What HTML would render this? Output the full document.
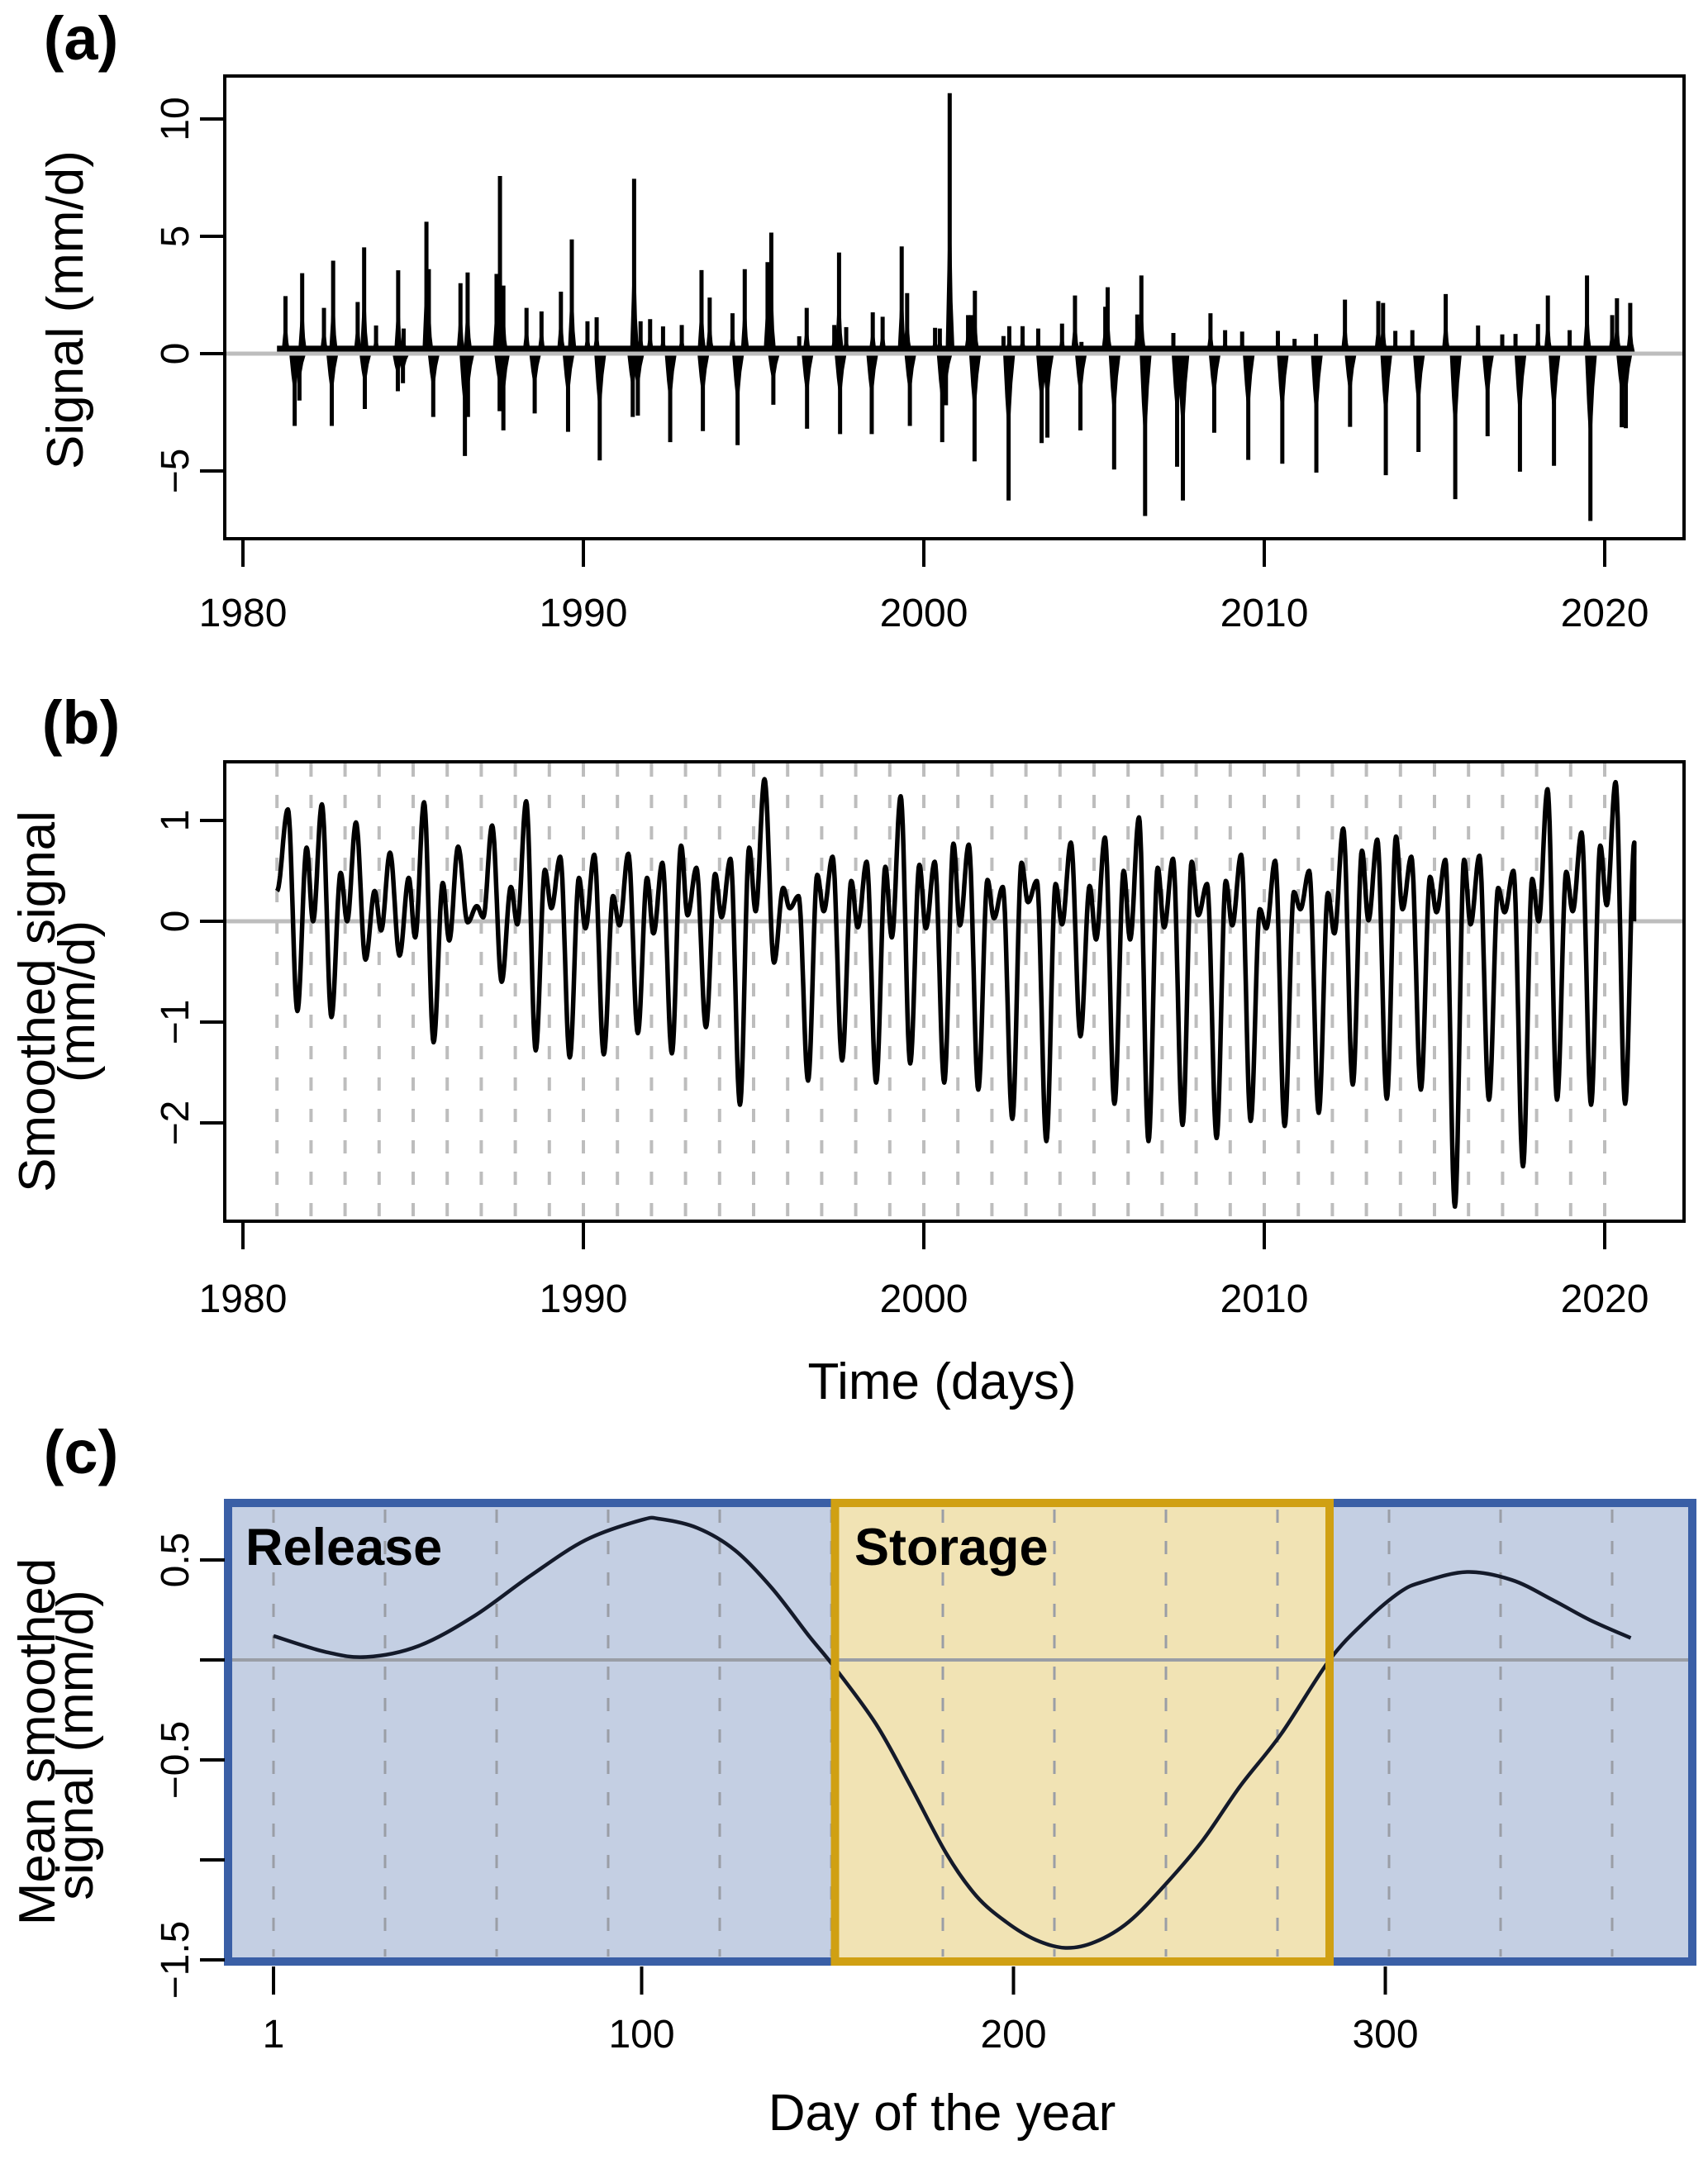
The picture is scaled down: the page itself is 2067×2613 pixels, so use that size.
<!DOCTYPE html>
<html><head><meta charset="utf-8"><style>
html,body{margin:0;padding:0;background:#fff}
svg{display:block;font-family:"Liberation Sans",Arial,sans-serif}
</style></head><body>
<svg id="fig" width="2067" height="2613" viewBox="0 0 2067 2613" xmlns="http://www.w3.org/2000/svg">
<rect x="0" y="0" width="2067" height="2613" fill="#fff"/>
<text x="98" y="72" font-size="74" font-weight="bold" text-anchor="middle">(a)</text>
<text x="98" y="900" font-size="74" font-weight="bold" text-anchor="middle">(b)</text>
<text x="98" y="1783" font-size="74" font-weight="bold" text-anchor="middle">(c)</text>
<g id="pa"></g>
<g id="pb"></g>
<g id="pc"></g>
<text transform="translate(100,375) rotate(-90)" font-size="62" text-anchor="middle">Signal (mm/d)</text>
<text transform="translate(66,1212) rotate(-90)" font-size="62" text-anchor="middle">Smoothed signal</text>
<text transform="translate(114,1212) rotate(-90)" font-size="62" text-anchor="middle">(mm/d)</text>
<text x="1140" y="1693" font-size="62" text-anchor="middle">Time (days)</text>
<text transform="translate(66,2108) rotate(-90)" font-size="62" text-anchor="middle">Mean smoothed</text>
<text transform="translate(112,2112) rotate(-90)" font-size="62" text-anchor="middle">signal (mm/d)</text>
<text x="1140" y="2578" font-size="62" text-anchor="middle">Day of the year</text>
</svg>
<script>
// ---------- Panel (a) data ----------
const aPosTimes=[1981.25,1981.74,1982.38,1982.65,1983.37,1983.56,1983.91,1984.56,1984.72,1985.39,1985.46,1986.39,1986.60,1987.45,1987.55,1987.65,1988.33,1988.77,1989.34,1989.66,1990.12,1990.39,1991.49,1991.68,1991.96,1992.34,1992.89,1993.47,1993.71,1994.38,1994.74,1995.41,1995.52,1996.34,1996.56,1997.37,1997.51,1997.72,1998.50,1998.79,1999.35,1999.51,2000.33,2000.47,2000.76,2001.30,2001.39,2001.50,2002.34,2002.51,2002.90,2003.36,2004.06,2004.44,2004.63,2005.33,2005.40,2006.27,2006.39,2007.33,2008.42,2008.85,2009.35,2010.40,2010.89,2011.52,2012.37,2013.35,2013.49,2013.85,2014.35,2015.33,2016.28,2016.99,2017.38,2018.04,2018.33,2018.97,2019.48,2020.22,2020.36,2020.75];
const aPosValues=[2.45,3.43,1.95,3.96,2.2,4.53,1.2,3.55,1.07,5.62,3.6,3.0,3.46,3.4,7.57,2.9,1.95,1.8,2.64,4.87,1.38,1.55,7.45,1.38,1.47,1.16,1.22,3.56,2.39,1.72,3.6,3.9,5.16,0.74,1.95,1.22,4.31,1.13,1.76,1.57,4.57,2.58,1.1,1.07,11.1,1.64,1.64,2.68,0.75,1.17,1.17,1.07,1.28,2.48,0.5,2.0,2.83,1.67,3.33,0.88,1.72,1.0,0.94,0.97,0.63,0.84,2.3,2.24,2.16,0.97,1.0,2.54,1.2,0.82,0.84,1.26,2.48,1.0,3.33,1.64,2.36,2.16];
const aNegTimes=[1981.52,1981.66,1982.61,1983.58,1984.55,1984.70,1985.59,1986.52,1986.61,1987.54,1987.65,1988.57,1989.55,1990.48,1991.45,1991.60,1992.55,1993.51,1994.53,1995.58,1996.57,1997.54,1998.47,1999.59,2000.54,2000.65,2001.49,2002.49,2003.46,2003.63,2004.60,2005.59,2006.50,2007.44,2007.61,2008.53,2009.53,2010.53,2011.53,2012.52,2013.57,2014.53,2015.61,2016.56,2017.51,2018.51,2019.58,2020.50,2020.62];
const aNegValues=[-3.08,-2.0,-3.08,-2.36,-1.6,-1.26,-2.7,-4.36,-2.7,-2.45,-3.27,-2.55,-3.33,-4.55,-2.7,-2.64,-3.77,-3.3,-3.9,-2.18,-3.2,-3.43,-3.43,-3.08,-3.77,-2.2,-4.59,-6.26,-3.81,-3.58,-3.27,-4.94,-6.92,-4.82,-6.26,-3.37,-4.53,-4.69,-5.07,-3.12,-5.18,-4.19,-6.2,-3.52,-5.03,-4.78,-7.13,-3.14,-3.18];
const aYTicks=[-5,0,5,10];
const aYTickLabels=["\u22125","0","5","10"];
const xYearTicks=[1980,1990,2000,2010,2020];
const xYearTickLabels=["1980","1990","2000","2010","2020"];
const seriesStart=1981.0, seriesEnd=2020.85;

// ---------- Panel (b) data (per-year extrema 1981..2020) ----------
const bYears=[1981,1982,1983,1984,1985,1986,1987,1988,1989,1990,1991,1992,1993,1994,1995,1996,1997,1998,1999,2000,2001,2002,2003,2004,2005,2006,2007,2008,2009,2010,2011,2012,2013,2014,2015,2016,2017,2018,2019,2020];
const bPhases=[0.06,0.32,0.6,0.87];
const bWinterDips=[0.3,0.0,0.0,-0.09,-0.16,-0.19,0.04,-0.03,0.13,-0.07,-0.04,-0.12,0.06,0.04,0.1,0.13,0.1,-0.06,-0.16,-0.07,-0.04,0.03,0.19,-0.03,-0.18,-0.18,-0.06,0.06,-0.04,-0.07,0.12,-0.12,0.01,0.12,0.09,-0.03,0.09,0.0,0.1,0.16];
const bSpringPeaks=[1.11,1.16,0.98,0.68,1.18,0.74,0.95,1.19,0.64,0.66,0.67,0.58,0.53,0.62,1.41,0.25,0.64,0.59,1.24,0.59,0.76,0.34,0.4,0.78,0.83,1.03,0.62,0.37,0.66,0.6,0.5,0.92,0.81,0.64,0.61,0.65,0.5,1.31,0.88,1.38];
const bSummerMins=[-0.89,-0.95,-0.38,-0.34,-1.2,-0.01,-0.6,-1.28,-1.35,-1.32,-1.11,-1.31,-1.05,-1.82,-0.41,-1.58,-1.38,-1.6,-1.41,-1.6,-1.67,-1.96,-2.18,-1.14,-1.81,-2.18,-2.02,-2.15,-1.98,-2.03,-1.9,-1.62,-1.76,-1.67,-2.83,-1.77,-2.43,-1.77,-1.82,-1.81];
const bAutumnPeaks=[0.73,0.48,0.3,0.43,0.38,0.15,0.34,0.51,0.43,0.25,0.43,0.75,0.47,0.73,0.33,0.46,0.4,0.54,0.56,0.77,0.41,0.58,0.37,0.35,0.5,0.53,0.59,0.4,0.12,0.29,0.28,0.7,0.84,0.44,0.61,0.33,0.42,0.49,0.75,0.78];
const bYTicks=[-2,-1,0,1];
const bYTickLabels=["\u22122","\u22121","0","1"];

// ---------- Panel (c) data ----------
const cDays=[1,15,26,40,55,70,85,100,105,115,125,135,145,152,163,172,182,190,198,206,214,222,231,241,251,261,272,285,295,304,310,322,334,345,355,366];
const cValues=[0.12,0.04,0.015,0.07,0.22,0.42,0.6,0.7,0.705,0.66,0.55,0.36,0.12,-0.04,-0.32,-0.62,-0.97,-1.18,-1.31,-1.40,-1.44,-1.41,-1.31,-1.12,-0.9,-0.63,-0.37,0.0,0.2,0.34,0.39,0.44,0.4,0.3,0.2,0.11];
const cStorageStart=152, cStorageEnd=285;
const cYTicks=[-1.5,-1,-0.5,0,0.5];
const cYTickLabels=["\u22121.5","","\u22120.5","","0.5"];
const cXTicks=[1,100,200,300];
const cXTickLabels=["1","100","200","300"];
const cGuideDays=[1,31,61,91,121,151,181,211,241,271,301,331,361];

const NS="http://www.w3.org/2000/svg";
function mk(parent,tag,attrs){const e=document.createElementNS(NS,tag);for(const k in attrs)e.setAttribute(k,attrs[k]);parent.appendChild(e);return e;}

const BX0=272,BX1=2038;
const xYear=t=>294+(t-1980)*41.2;

function frame(g,y0,y1,prefix){
  const r=mk(g,'rect',{x:BX0,y:y0,width:BX1-BX0,height:y1-y0,fill:'none',stroke:'#000','stroke-width':4});
  
  
}
function xYearAxis(g,yb,labY,prefix){
  xYearTicks.forEach((t,i)=>{
    const l=mk(g,'line',{x1:xYear(t),x2:xYear(t),y1:yb,y2:yb+34,stroke:'#000','stroke-width':4});
    
    
    const tx=mk(g,'text',{x:xYear(t),y:labY,'font-size':48,'text-anchor':'middle'});
    tx.textContent=xYearTickLabels[i];
    
    
  });
}
function yAxis(g,ticks,labels,ys,prefix){
  ticks.forEach((v,i)=>{
    const y=ys(v);
    const l=mk(g,'line',{x1:242,x2:BX0,y1:y,y2:y,stroke:'#000','stroke-width':4});
    
    
    if(labels[i]){
      const tx=mk(g,'text',{transform:`translate(228,${y}) rotate(-90)`,'font-size':48,'text-anchor':'middle'});
      tx.textContent=labels[i];
      
      
    }
  });
}

// ---------- Panel (a) ----------
(function(){
  const g=document.getElementById('pa');
  const ya=v=>428-v*28.4;
  const base=mk(g,'line',{x1:xYear(seriesStart),x2:xYear(seriesEnd),y1:ya(0.2),y2:ya(0.2),stroke:'#000','stroke-width':8});
  
  
  function spike(t,v,name,w){
    const p=mk(g,'path',{d:`M${xYear(t-w)},${ya(0)} L${xYear(t-w*0.6)},${ya(v*0.3)} L${xYear(t-0.04)},${ya(v*0.5)} L${xYear(t)},${ya(v*0.6)} L${xYear(t+0.05)},${ya(v*0.45)} L${xYear(t+w*0.7)},${ya(v*0.2)} L${xYear(t+w*1.2)},${ya(0)} Z`,fill:'#000'});
    
    
    const l=mk(g,'line',{x1:xYear(t),x2:xYear(t),y1:ya(0),y2:ya(v),stroke:'#000','stroke-width':5});
    
    
  }
  aPosTimes.forEach((t,i)=>spike(t,aPosValues[i],'signal-positive-spike',0.12));
  aNegTimes.forEach((t,i)=>spike(t,aNegValues[i],'signal-negative-spike',0.16));
  const z=mk(g,'line',{x1:BX0,x2:BX1,y1:ya(0),y2:ya(0),stroke:'#bdbdbd','stroke-width':5});
  
  
  frame(g,92,652,'panel-a');
  yAxis(g,aYTicks,aYTickLabels,ya,'panel-a');
  xYearAxis(g,652,758,'panel-a');
})();

// ---------- Panel (b) ----------
(function(){
  const g=document.getElementById('pb');
  const yb=v=>1115-v*122;
  bYears.forEach(yr=>{
    const l=mk(g,'line',{x1:xYear(yr),x2:xYear(yr),y1:924,y2:1476,stroke:'#bdbdbd','stroke-width':4,'stroke-dasharray':'16 22'});
    
    
  });
  const z=mk(g,'line',{x1:BX0,x2:BX1,y1:yb(0),y2:yb(0),stroke:'#bdbdbd','stroke-width':5});
  
  
  const pts=[[seriesStart,bWinterDips[0]]];
  bYears.forEach((yr,i)=>{
    const vals=[bWinterDips[i],bSpringPeaks[i],bSummerMins[i],bAutumnPeaks[i]];
    vals.forEach((v,k)=>{ if(i===0&&k===0)return; pts.push([yr+bPhases[k],v]); });
  });
  pts.push([seriesEnd+0.01,0.0]);
  let d=`M${xYear(pts[0][0])},${yb(pts[0][1])}`;
  for(let i=0;i<pts.length-1;i++){
    const [t0,v0]=pts[i],[t1,v1]=pts[i+1];
    const n=14;
    for(let s=1;s<=n;s++){
      const u=s/n, w=(1-Math.cos(Math.PI*u))/2;
      d+=` L${(xYear(t0+(t1-t0)*u)).toFixed(1)},${(yb(v0+(v1-v0)*w)).toFixed(1)}`;
    }
  }
  const p=mk(g,'path',{d:d,fill:'none',stroke:'#000','stroke-width':5.5,'stroke-linejoin':'round'});
  
  
  frame(g,922,1478,'panel-b');
  yAxis(g,bYTicks,bYTickLabels,yb,'panel-b');
  xYearAxis(g,1478,1588,'panel-b');
})();

// ---------- Panel (c) ----------
(function(){
  const g=document.getElementById('pc');
  const xd=d=>326.5+d*4.5;
  const yc=v=>2009-v*242;
  const top=1819,bot=2374;
  const bg=mk(g,'rect',{x:276,y:top,width:1772,height:bot-top,fill:'#c4cfe3'});
  
  
  const st=mk(g,'rect',{x:xd(cStorageStart),y:top,width:xd(cStorageEnd)-xd(cStorageStart),height:bot-top,fill:'#f1e3b4'});
  
  
  cGuideDays.forEach(dd=>{
    const l=mk(g,'line',{x1:xd(dd),x2:xd(dd),y1:top+8,y2:bot-6,stroke:'#9a9ea6','stroke-width':3,'stroke-dasharray':'16 22'});
    
    
  });
  const z=mk(g,'line',{x1:276,x2:2048,y1:yc(0),y2:yc(0),stroke:'#9a9ea6','stroke-width':4});
  
  
  const P=cDays.map((d,i)=>[xd(d),yc(cValues[i])]);
  let d=`M${P[0][0]},${P[0][1]}`;
  for(let i=0;i<P.length-1;i++){
    const p0=P[Math.max(0,i-1)],p1=P[i],p2=P[i+1],p3=P[Math.min(P.length-1,i+2)];
    const c1=[p1[0]+(p2[0]-p0[0])/6,p1[1]+(p2[1]-p0[1])/6];
    const c2=[p2[0]-(p3[0]-p1[0])/6,p2[1]-(p3[1]-p1[1])/6];
    d+=` C${c1[0].toFixed(1)},${c1[1].toFixed(1)} ${c2[0].toFixed(1)},${c2[1].toFixed(1)} ${p2[0].toFixed(1)},${p2[1].toFixed(1)}`;
  }
  const c=mk(g,'path',{d:d,fill:'none',stroke:'#141a2a','stroke-width':4.5});
  
  
  const bo=mk(g,'rect',{x:276,y:top,width:1772,height:bot-top,fill:'none',stroke:'#3a5fa6','stroke-width':10});
  
  
  const so=mk(g,'rect',{x:xd(cStorageStart),y:top,width:xd(cStorageEnd)-xd(cStorageStart),height:bot-top,fill:'none',stroke:'#d0a013','stroke-width':10});
  
  
  const t1=mk(g,'text',{x:297,y:1894,'font-size':63,'font-weight':'bold'});
  t1.textContent='Release';
  
  
  const t2=mk(g,'text',{x:1034,y:1894,'font-size':63,'font-weight':'bold'});
  t2.textContent='Storage';
  
  
  yAxis(g,cYTicks,cYTickLabels,yc,'panel-c');
  cXTicks.forEach((t,i)=>{
    const l=mk(g,'line',{x1:xd(t),x2:xd(t),y1:2380,y2:2414,stroke:'#000','stroke-width':4});
    
    
    const tx=mk(g,'text',{x:xd(t),y:2478,'font-size':48,'text-anchor':'middle'});
    tx.textContent=cXTickLabels[i];
    
    
  });
})();
</script>
</body></html>
